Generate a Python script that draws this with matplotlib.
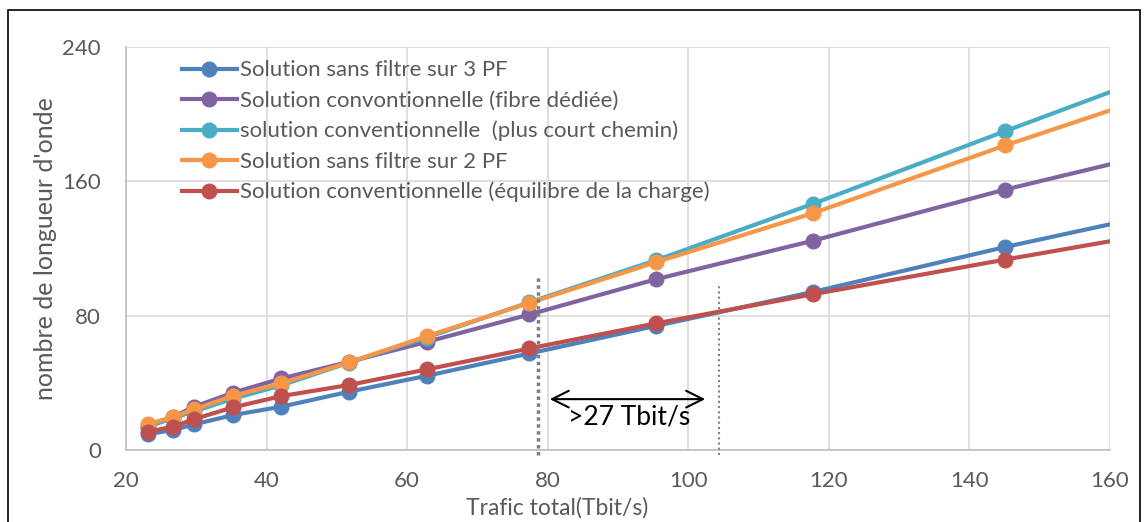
import matplotlib
matplotlib.use("Agg")
import matplotlib.pyplot as plt
from matplotlib.patches import Rectangle

# Data
x_vals = [23.1, 26.7, 29.7, 35.2, 42.1, 51.7, 62.8, 77.4, 95.4, 117.8, 145.1, 160]
labels = [
    "Solution sans filtre sur 3 PF",
    "Solution convontionnelle (fibre dédiée)",
    "solution conventionnelle  (plus court chemin)",
    "Solution sans filtre sur 2 PF",
    "Solution conventionnelle (équilibre de la charge)",
]
sans_filtre_3pf = [9.5, 11.9, 15.3, 20.8, 25.8, 34.7, 44.2, 57.5, 73.9, 94.2, 120.9, 134.4]
fibre_dediee = [14.0, 19.8, 25.8, 34.1, 42.6, 52.5, 64.4, 80.7, 101.7, 124.7, 155.1, 170.1]
plus_court = [13.9, 19.0, 23.0, 30.5, 38.5, 52.0, 67.0, 88.0, 113.0, 146.7, 189.9, 213.1]
sans_filtre_2pf = [15.3, 19.8, 24.2, 32.3, 39.7, 52.2, 67.8, 87.6, 111.8, 141.1, 181.4, 202.2]
equilibre = [10.9, 13.9, 18.4, 25.4, 32.1, 38.7, 48.0, 60.5, 75.4, 92.8, 113.4, 124.3]
series = [sans_filtre_3pf, fibre_dediee, plus_court, sans_filtre_2pf, equilibre]
colors = ["#4F81BD", "#8064A2", "#4BACC6", "#F79646", "#C0504D"]

x_ticks = [20, 40, 60, 80, 100, 120, 140, 160]
y_ticks = [0, 80, 160, 240]

FONT = ["Lato", "DejaVu Sans"]

fig = plt.figure(figsize=(11.47, 5.22), dpi=100)
ax = fig.add_axes([0.1099, 0.1379, 0.9677 - 0.1099, 0.91 - 0.1379])

for vals, c, lab in zip(series, colors, labels):
    ax.plot(x_vals, vals, color=c, lw=3, marker="o", markersize=10.5,
            markevery=list(range(len(x_vals) - 1)), label=lab, zorder=3)

ax.set_xlim(20, 160)
ax.set_ylim(0, 240)
ax.set_xticks(x_ticks)
ax.set_yticks(y_ticks)
ax.grid(True, color="#D9D9D9", lw=1.2, zorder=0)
for s in ["top", "right"]:
    ax.spines[s].set_visible(False)
for s in ["left", "bottom"]:
    ax.spines[s].set_color("#BFBFBF")
    ax.spines[s].set_linewidth(1.2)
ax.tick_params(length=0, colors="#595959")
ax.tick_params(axis="y", pad=18)
ax.tick_params(axis="x", pad=15)
for t in ax.get_yticklabels() + ax.get_xticklabels():
    t.set_fontfamily(FONT)
    t.set_fontsize(16)

ax.set_xlabel("Trafic total(Tbit/s)", fontsize=16.5, color="#595959", family=FONT)
ax.xaxis.set_label_coords(0.438, -0.117)
ax.xaxis.label.set_va("top")
ax.set_ylabel("nombre de longueur d'onde", fontsize=18, color="#595959", family=FONT)
ax.yaxis.set_label_coords(-0.0823, 0.5)
ax.yaxis.label.set_va("center")

leg = ax.legend(loc="upper left", bbox_to_anchor=(0.0434, 1.0), frameon=False,
                prop={"family": FONT, "size": 16},
                handlelength=2.45, handletextpad=0.15, labelspacing=0.46,
                borderaxespad=0.2)
for t in leg.get_texts():
    t.set_color("#595959")

# annotations
ax.plot([78.6, 78.6], [-3, 103], color="#7F7F7F", lw=2.5, ls=(0, (1, 1)),
        clip_on=False, zorder=4)
ax.plot([104.4, 104.4], [-3, 99.3], color="#7F7F7F", lw=1.5, ls=(0, (1, 1.5)),
        clip_on=False, zorder=4)
ax.annotate("", xy=(79.9, 30.3), xytext=(102.8, 30.3),
            arrowprops=dict(arrowstyle="<->", color="black", lw=1.5,
                            mutation_scale=30), zorder=5)
ax.text(91.6, 19.5, ">27 Tbit/s", fontsize=19, color="black", ha="center",
        va="center", family=FONT, zorder=5)

fig.add_artist(Rectangle((8 / 1147, -0.05), (1140 - 8) / 1147, 1.05 - 10 / 522,
                         transform=fig.transFigure, fill=False,
                         edgecolor="black", lw=1.2))

fig.savefig("out.png", dpi=100)
